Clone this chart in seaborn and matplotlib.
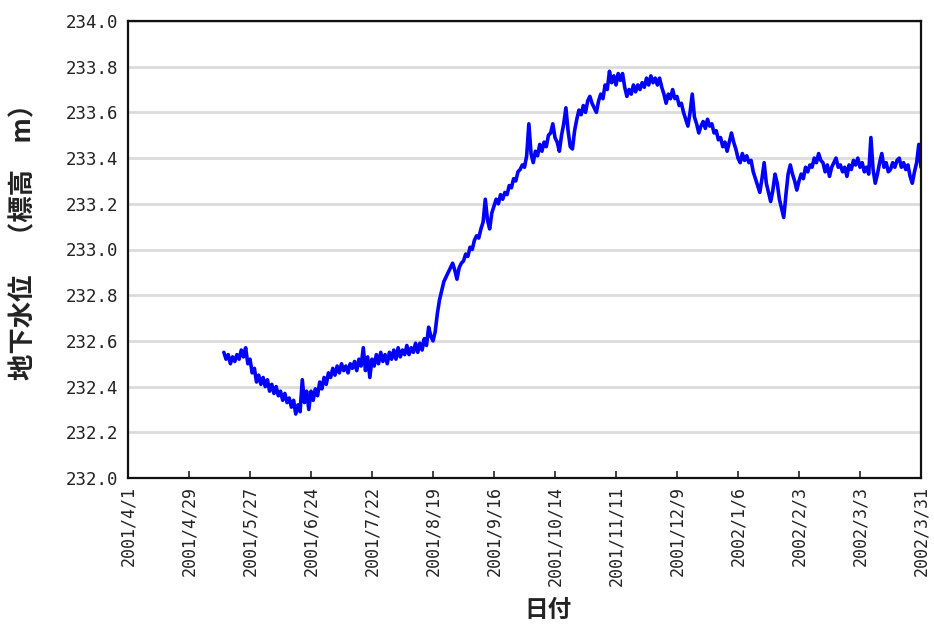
import matplotlib
matplotlib.use("Agg")
import matplotlib.pyplot as plt
import matplotlib.dates as mdates
import numpy as np
import pandas as pd
import seaborn as sns

# Daily groundwater level readings (m above sea level), 2001/5/15 - 2002/3/31
start_date = "2001-05-15"
levels = [
    232.55, 232.52, 232.54, 232.50, 232.53, 232.51, 232.54, 232.52, 232.56, 232.53,
    232.57, 232.50, 232.52, 232.46, 232.48, 232.42, 232.45, 232.41, 232.44, 232.40,
    232.43, 232.38, 232.41, 232.37, 232.40, 232.36, 232.38, 232.34, 232.37, 232.33,
    232.35, 232.31, 232.34, 232.28, 232.32, 232.29, 232.43, 232.33, 232.38, 232.30,
    232.38, 232.34, 232.39, 232.36, 232.42, 232.39, 232.44, 232.41, 232.46, 232.44,
    232.48, 232.45, 232.49, 232.46, 232.50, 232.47, 232.49, 232.46, 232.50, 232.48,
    232.51, 232.47, 232.52, 232.49, 232.57, 232.47, 232.53, 232.44, 232.52, 232.49,
    232.54, 232.50, 232.55, 232.51, 232.54, 232.50, 232.55, 232.52, 232.56, 232.52,
    232.57, 232.53, 232.56, 232.54, 232.58, 232.54, 232.57, 232.55, 232.59, 232.55,
    232.59, 232.56, 232.61, 232.58, 232.66, 232.62, 232.60, 232.64, 232.72, 232.78,
    232.82, 232.86, 232.88, 232.90, 232.92, 232.94, 232.91, 232.87, 232.92, 232.94,
    232.95, 232.98, 232.97, 233.01, 233.00, 233.04, 233.06, 233.05, 233.09, 233.12,
    233.22, 233.13, 233.09, 233.16, 233.19, 233.22, 233.20, 233.24, 233.22, 233.25,
    233.24, 233.28, 233.27, 233.31, 233.30, 233.34, 233.35, 233.37, 233.36, 233.41,
    233.55, 233.42, 233.38, 233.43, 233.41, 233.46, 233.43, 233.47, 233.45, 233.50,
    233.51, 233.55, 233.49, 233.47, 233.43, 233.50, 233.55, 233.62, 233.52, 233.45,
    233.44, 233.52, 233.57, 233.61, 233.59, 233.63, 233.60, 233.65, 233.67, 233.64,
    233.62, 233.60, 233.65, 233.68, 233.66, 233.72, 233.70, 233.78, 233.73, 233.76,
    233.72, 233.77, 233.74, 233.77, 233.71, 233.67, 233.70, 233.68, 233.72, 233.69,
    233.72, 233.70, 233.73, 233.71, 233.75, 233.72, 233.76, 233.73, 233.75, 233.72,
    233.75, 233.71, 233.68, 233.64, 233.68, 233.66, 233.70, 233.66, 233.67, 233.63,
    233.64, 233.60, 233.57, 233.54, 233.60, 233.68, 233.58, 233.55, 233.51, 233.54,
    233.56, 233.53, 233.57, 233.54, 233.55, 233.51, 233.52, 233.48, 233.49, 233.45,
    233.47, 233.43, 233.47, 233.51, 233.47, 233.44, 233.40, 233.38, 233.42, 233.39,
    233.41, 233.38, 233.39, 233.34, 233.31, 233.28, 233.25, 233.31, 233.38, 233.29,
    233.25, 233.21, 233.26, 233.33, 233.29, 233.22, 233.18, 233.14, 233.24, 233.33,
    233.37, 233.33, 233.30, 233.26, 233.30, 233.33, 233.31, 233.36, 233.34, 233.37,
    233.36, 233.40, 233.38, 233.42, 233.39, 233.38, 233.34, 233.37, 233.32, 233.36,
    233.38, 233.40, 233.36, 233.37, 233.34, 233.36, 233.32, 233.37, 233.35, 233.39,
    233.37, 233.40, 233.36, 233.38, 233.34, 233.36, 233.33, 233.49, 233.35, 233.29,
    233.33, 233.38, 233.42, 233.36, 233.38, 233.34, 233.35, 233.38, 233.36, 233.39,
    233.40, 233.36, 233.38, 233.35, 233.37, 233.32, 233.29, 233.34, 233.38, 233.46,
    233.36,
]

tick_dates = [
    "2001-04-01", "2001-04-29", "2001-05-27", "2001-06-24", "2001-07-22",
    "2001-08-19", "2001-09-16", "2001-10-14", "2001-11-11", "2001-12-09",
    "2002-01-06", "2002-02-03", "2002-03-03", "2002-03-31",
]
tick_labels = [
    "2001/4/1", "2001/4/29", "2001/5/27", "2001/6/24", "2001/7/22",
    "2001/8/19", "2001/9/16", "2001/10/14", "2001/11/11", "2001/12/9",
    "2002/1/6", "2002/2/3", "2002/3/3", "2002/3/31",
]
y_ticks = [232.0, 232.2, 232.4, 232.6, 232.8, 233.0,
           233.2, 233.4, 233.6, 233.8, 234.0]

df = pd.DataFrame({
    "date": pd.date_range(start_date, periods=len(levels), freq="D"),
    "level": levels,
})

sns.set_theme(style="white")
plt.rcParams["font.family"] = ["Noto Sans CJK JP", "DejaVu Sans"]

fig = plt.figure(figsize=(9.34, 6.33), dpi=100)
ax = fig.add_axes([128 / 934, 1 - 478 / 633, 793 / 934, 457 / 633])

sns.lineplot(data=df, x="date", y="level", ax=ax, color="#0000ff",
             linewidth=2.6, estimator=None)

# axis ranges
ax.set_xlim(pd.Timestamp(tick_dates[0]), pd.Timestamp(tick_dates[-1]))
ax.set_ylim(y_ticks[0], y_ticks[-1])

# horizontal grid only
ax.set_yticks(y_ticks)
ax.yaxis.grid(True, color="#dcdcdc", linewidth=2)
ax.xaxis.grid(False)
ax.set_axisbelow(True)

mono = ["DejaVu Sans Mono"]
ax.set_yticklabels([f"{v:.1f}" for v in y_ticks], family=mono,
                   fontsize=12.5, color="#222222")
ax.set_xticks([mdates.date2num(pd.Timestamp(d)) for d in tick_dates])
ax.set_xticklabels(tick_labels, rotation=90, family=mono,
                   fontsize=12, color="#222222", va="top")

ax.tick_params(axis="x", direction="in", length=5, width=1.2,
               color="#222222", pad=6, bottom=True)
ax.tick_params(axis="y", length=0, pad=7, left=True)

for side in ax.spines.values():
    side.set_visible(True)
    side.set_color("#111111")
    side.set_linewidth(1.6)

ax.set_xlabel("日付", fontsize=17, color="#222222", fontweight="bold")
ax.xaxis.set_label_coords((548 - 128) / 793, -(598 - 478) / 457)
ax.set_ylabel("地下水位　（標高　m）", fontsize=19, color="#222222",
              fontweight="bold")
ax.yaxis.set_label_coords((37 - 128) / 793, (478 - 235) / 457)

fig.savefig("out.png", dpi=100)
